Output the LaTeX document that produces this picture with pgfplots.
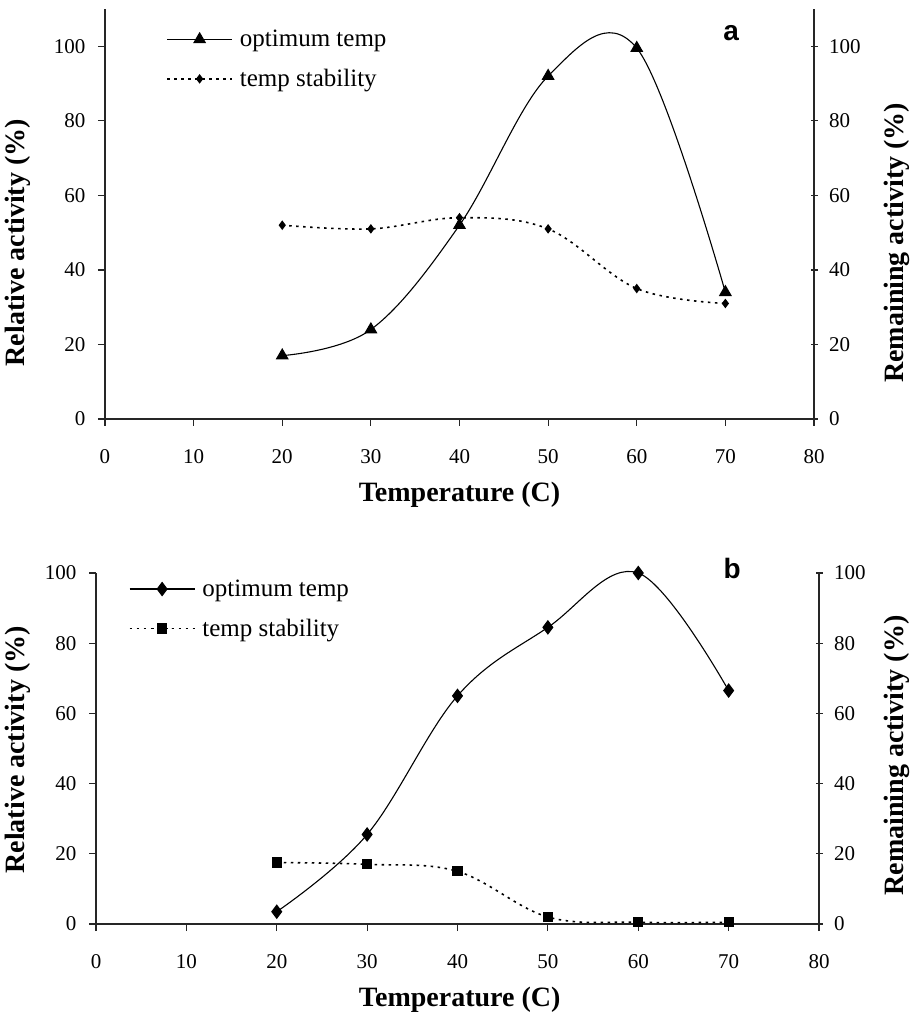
\documentclass[border=0pt]{standalone}
\usepackage{fontspec}
\setmainfont{Liberation Serif}
\newfontfamily\arialfont{Liberation Sans}
\usepackage{pgfplots}
\pgfplotsset{compat=1.18}

\pgfplotsset{
  base/.style={
    scale only axis, clip=false,
    xmin=0, xmax=80, xtick={0,10,...,80},
    axis x line*=bottom, axis y line*=left,
    axis line style={-, line width=1.3pt, black!85},
    tick style={line width=1.2pt, black!85},
    major tick length=7pt,
    tick align=outside,
    ticklabel style={font=\fontsize{21}{24}\selectfont},
    xticklabel style={yshift=-20pt},
    yticklabel style={xshift=-9pt},
    label style={font=\bfseries\fontsize{28}{32}\selectfont},
    /pgf/number format/assume math mode=true,
    legend style={draw=none, fill=none, anchor=north west,
      font=\fontsize{25}{30}\selectfont, row sep=17pt, column sep=5pt},
    legend cell align=left,
    legend image code/.code={
      \draw[mark repeat=2,mark phase=2,#1] plot coordinates {(0pt,0pt) (32.5pt,0pt) (65pt,0pt)};
    },
  },
  rightax/.style={
    scale only axis,
    xmin=0, xmax=80,
    axis x line=none, axis y line*=right,
    axis line style={-, line width=1.3pt, black!85},
    tick style={line width=1.2pt, black!85},
    major tick length=7pt,
    tick align=center,
    ticklabel style={font=\fontsize{21}{24}\selectfont},
    yticklabel style={xshift=8pt},
    label style={font=\bfseries\fontsize{28}{32}\selectfont},
    /pgf/number format/assume math mode=true,
  },
  optline/.style={black, line width=1.1pt, smooth, tension=0.6},
  stabline/.style={black, line width=1.6pt, smooth, tension=0.6, dash pattern=on 2.5pt off 4.5pt},
}

\begin{document}
\begin{tikzpicture}
\useasboundingbox (0,0) rectangle (916pt,1023pt);

% ---------------- panel a ----------------
\begin{axis}[base,
  at={(105pt,604pt)}, anchor=south west,
  width=709pt, height=410pt,
  ymin=0, ymax=110, ytick={0,20,...,100},
  xlabel={Temperature (C)},
  ylabel={Relative activity (\%)},
  xlabel style={at={(axis description cs:0.5,-0.185)}, anchor=center},
  ylabel style={at={(axis description cs:-0.1227,0.43)}, anchor=center},
  legend style={at={(rel axis cs:0.082,0.958)}},
]
\addplot[optline, mark=triangle*, mark size=6.5pt, mark options={solid}] coordinates {
  (20,17) (30,24) (40,52) (50,92) (60,99.5) (70,34)};
\addlegendentry{optimum temp}
\addplot[stabline, mark=diamond*, mark size=3.5pt, mark options={solid}] coordinates {
  (20,52) (30,51) (40,54) (50,51) (60,35) (70,31)};
\addlegendentry{temp stability}
\node[font=\arialfont\bfseries\fontsize{28}{32}\selectfont] at (rel axis cs:0.883,0.941) {a};
\end{axis}
\begin{axis}[rightax,
  at={(105pt,604pt)}, anchor=south west,
  width=709pt, height=410pt,
  ymin=0, ymax=110, ytick={0,20,...,100},
  ylabel={Remaining activity (\%)},
  ylabel style={at={(axis description cs:1.117,0.43)}, anchor=center},
]
\end{axis}

% ---------------- panel b ----------------
\begin{axis}[base,
  at={(96pt,99pt)}, anchor=south west,
  width=723pt, height=351pt,
  ymin=0, ymax=100, ytick={0,20,...,100},
  xlabel={Temperature (C)},
  ylabel={Relative activity (\%)},
  xlabel style={at={(axis description cs:0.503,-0.217)}, anchor=center},
  ylabel style={at={(axis description cs:-0.108,0.496)}, anchor=center},
  legend style={at={(rel axis cs:0.041,0.992)}},
]
\addplot[optline, mark=diamond*, mark size=6.5pt, mark options={solid}] coordinates {
  (20,3.5) (30,25.5) (40,65) (50,84.5) (60,100) (70,66.5)};
\addlegendentry{optimum temp}
\addplot[stabline, mark=square*, mark size=4.3pt, mark options={solid}] coordinates {
  (20,17.5) (30,17) (40,15) (50,2) (60,0.5) (70,0.5)};
\addlegendentry{temp stability}
\node[font=\arialfont\bfseries\fontsize{28}{32}\selectfont] at (rel axis cs:0.880,1.014) {b};
\end{axis}
\begin{axis}[rightax,
  at={(96pt,99pt)}, anchor=south west,
  width=723pt, height=351pt,
  ymin=0, ymax=100, ytick={0,20,...,100},
  ylabel={Remaining activity (\%)},
  ylabel style={at={(axis description cs:1.108,0.48)}, anchor=center},
]
\end{axis}
\end{tikzpicture}
\end{document}
